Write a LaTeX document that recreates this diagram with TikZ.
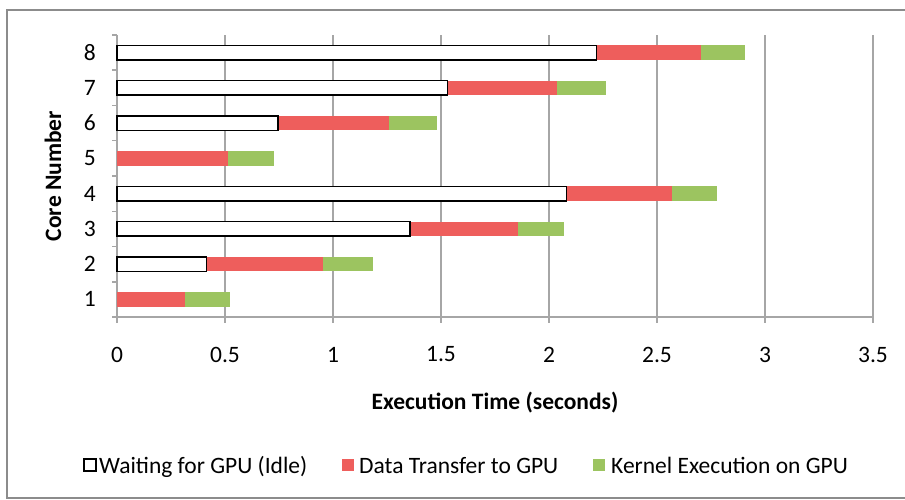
\documentclass[tikz,border=0pt]{standalone}
\usepackage{fontspec}
\setmainfont{Carlito}
\definecolor{gridgray}{RGB}{166,166,166}
\definecolor{framegray}{RGB}{140,140,140}
\definecolor{xferred}{RGB}{238,94,92}
\definecolor{kerngreen}{RGB}{156,196,96}
\tikzset{
  gridline/.style={draw=gridgray,line width=1.5pt},
  axisline/.style={draw=gridgray,line width=1.5pt},
  idlebox/.style={draw=black,fill=white,line width=1.3pt},
  xfer/.style={fill=xferred},
  kern/.style={fill=kerngreen},
  ticklabel/.style={font=\fontsize{23.5}{27}\selectfont,inner sep=0pt},
  axistitle/.style={font=\fontsize{23.5}{27}\selectfont\bfseries,inner sep=0pt},
  legendtext/.style={font=\fontsize{23.5}{27}\selectfont,inner sep=0pt,anchor=base west},
}
% one horizontal bar: centre, end of idle, end of transfer, end of kernel
\newcommand\corebar[4]{%
  \fill[xfer] (#2,#1-0.205) rectangle (#3,#1+0.205);
  \fill[kern] (#3,#1-0.205) rectangle (#4,#1+0.205);
  \ifdim #2pt>0pt \draw[idlebox] (0,#1-0.205) rectangle (#2,#1+0.205);\fi
}
\begin{document}
\begin{tikzpicture}[x=1pt,y=-1pt]
\useasboundingbox (0,0) rectangle (905,500);
\fill[white] (0,0) rectangle (905,500);
% chart frame
\draw[framegray,line width=1.5pt] (920,10) -- (7,10) -- (7,498) -- (920,498);

% plot area in data units: x = seconds, y = core slots
\begin{scope}[shift={(117,317)},x=216pt,y=35.25pt]
  \foreach \t in {0.5,1,...,3.5} \draw[gridline] (\t,0) -- (\t,8);
  \draw[axisline] (0,0) -- (0,8);
  \draw[axisline] (0,0) -- (3.5,0);
  \foreach \k in {0,...,8} \draw[axisline] (0,\k) -- ++(-5pt,0);
  \foreach \t in {0,0.5,...,3.5} \draw[axisline] (\t,0) -- ++(0,-6pt);
  % x tick labels
  \foreach \t/\lab [count=\i] in {0/0,0.5/0.5,1/1,1.5/1.5,2/2,2.5/2.5,3/3,3.5/3.5}
    \node[ticklabel] (xt\i) at ([yshift=-37.5pt]\t,0) {\lab};
  % y tick labels
  \foreach \k in {1,...,8}
    \node[ticklabel,anchor=east] (yt\k) at ([xshift=-21pt]0,\k-0.5) {\k};
  % bars
  \corebar{0.5}{0}{0.315}{0.524}
  \corebar{1.5}{0.413}{0.955}{1.186}
  \corebar{2.5}{1.356}{1.858}{2.068}
  \corebar{3.5}{2.082}{2.569}{2.778}
  \corebar{4.5}{0}{0.512}{0.728}
  \corebar{5.5}{0.745}{1.258}{1.481}
  \corebar{6.5}{1.531}{2.037}{2.265}
  \corebar{7.5}{2.219}{2.704}{2.909}
\end{scope}

% axis titles
\node[axistitle] (xtitle) at (495,403) {Execution Time (seconds)};
\node[axistitle,rotate=90] (ytitle) at (53,176) {Core Number};

% legend
\draw[black,line width=1.3pt,fill=white] (84,459) rectangle (96,471);
\node[legendtext] (lg1) at (99,473) {Waiting for GPU (Idle)};
\fill[xferred] (342,459) rectangle (354,471);
\node[legendtext] (lg2) at (359,473) {Data Transfer to GPU};
\fill[kerngreen] (593,459) rectangle (605,471);
\node[legendtext] (lg3) at (611,473) {Kernel Execution on GPU};
\end{tikzpicture}
\end{document}
